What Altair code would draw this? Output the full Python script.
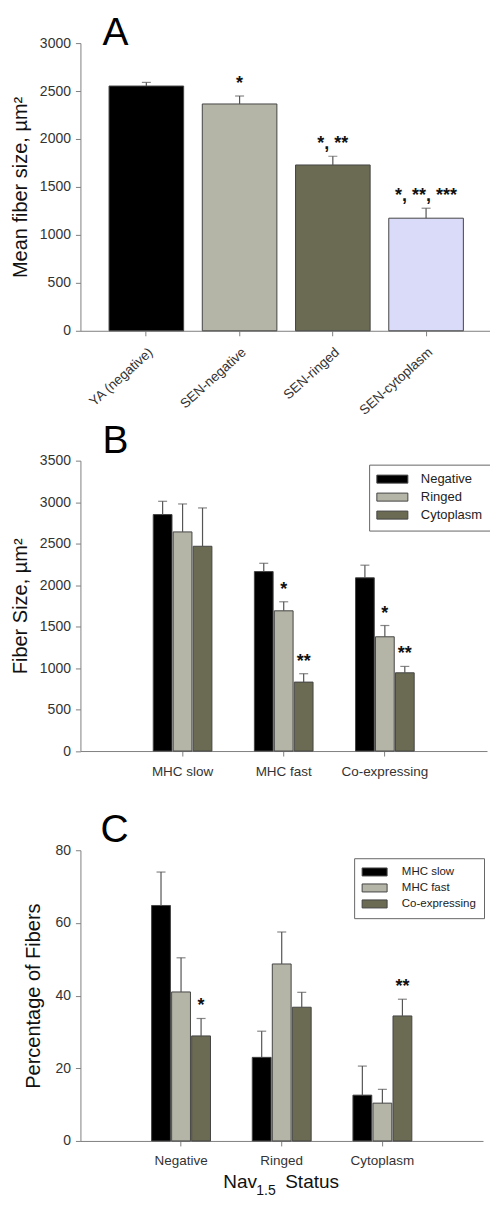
import altair as alt
import pandas as pd

FONT = "Liberation Sans"
AXIS_GRAY = "#808080"
LABEL_COLOR = "#333333"

# ---------------- Panel A data ----------------
a_categories = ["YA (negative)", "SEN-negative", "SEN-ringed", "SEN-cytoplasm"]
a_means = [2552, 2365, 1729, 1174]
a_sems = [38, 83, 91, 104]
a_stars = ["", "*", "*, **", "*, **, ***"]
a_colors = ["#000000", "#b5b5a7", "#6b6b53", "#dadaf9"]
a_ticks = [0, 500, 1000, 1500, 2000, 2500, 3000]

# ---------------- Panel B data ----------------
b_groups = ["MHC slow", "MHC fast", "Co-expressing"]
b_series = ["Negative", "Ringed", "Cytoplasm"]
b_negative_mean = [2850, 2163, 2088]
b_negative_sem = [160, 100, 152]
b_ringed_mean = [2641, 1690, 1377]
b_ringed_sem = [337, 109, 136]
b_cytoplasm_mean = [2468, 831, 943]
b_cytoplasm_sem = [462, 101, 77]
b_negative_stars = ["", "", ""]
b_ringed_stars = ["", "*", "*"]
b_cytoplasm_stars = ["", "**", "**"]
b_colors = ["#000000", "#b5b5a7", "#6b6b53"]
b_ticks = [0, 500, 1000, 1500, 2000, 2500, 3000, 3500]

# ---------------- Panel C data ----------------
c_groups = ["Negative", "Ringed", "Cytoplasm"]
c_series = ["MHC slow", "MHC fast", "Co-expressing"]
c_slow_mean = [64.8, 23.0, 12.6]
c_slow_sem = [9.2, 7.2, 8.0]
c_fast_mean = [41.0, 48.7, 10.4]
c_fast_sem = [9.4, 8.8, 3.8]
c_co_mean = [28.9, 36.8, 34.4]
c_co_sem = [4.8, 4.1, 4.6]
c_slow_stars = ["", "", ""]
c_fast_stars = ["", "", ""]
c_co_stars = ["*", "", "**"]
c_colors = ["#000000", "#b5b5a7", "#6b6b53"]
c_ticks = [0, 20, 40, 60, 80]


def long_table(groups, series, means, sems, stars):
    rows = []
    for s, m_list, e_list, st_list in zip(series, means, sems, stars):
        for g, m, e, st in zip(groups, m_list, e_list, st_list):
            rows.append({"group": g, "series": s, "mean": m, "upper": m + e, "star": st})
    return pd.DataFrame(rows)


def y_axis(title, values, extent, tpad):
    return alt.Axis(
        title=title, values=values, format="d", grid=False, tickSize=5, labelPadding=5,
        minExtent=extent, maxExtent=extent, titlePadding=tpad,
        titleFontSize=20, titleFontWeight="normal", titleColor="#111111",
        titleFont=FONT, labelFont=FONT, labelFontSize=14, labelColor=LABEL_COLOR,
        domainColor=AXIS_GRAY, tickColor=AXIS_GRAY,
    )


def letter(ch, x, y):
    return alt.Chart(pd.DataFrame({"t": [ch]})).mark_text(
        font=FONT, fontSize=39, align="left", baseline="alphabetic", color="#000000"
    ).encode(x=alt.value(x), y=alt.value(y), text="t:N")


# ---------------- Panel A ----------------
dfA = pd.DataFrame({"cat": a_categories, "mean": a_means, "sem": a_sems, "star": a_stars})
dfA["upper"] = dfA["mean"] + dfA["sem"]

xA = alt.X(
    "cat:N", sort=a_categories,
    scale=alt.Scale(paddingInner=0.2, paddingOuter=0.307),
    axis=alt.Axis(title=None, labelAngle=-42, labelFontSize=13.5, labelFont=FONT,
                  labelColor=LABEL_COLOR, tickSize=5, labelPadding=9,
                  domainColor=AXIS_GRAY, tickColor=AXIS_GRAY),
)
axA = y_axis("Mean fiber size, µm²", a_ticks, 42, 7.5)
scA = alt.Scale(domain=[0, 3000], nice=False)

baseA = alt.Chart(dfA)
barsA = baseA.mark_bar(stroke="#444444", strokeWidth=1).encode(
    x=xA, y=alt.Y("mean:Q", scale=scA, axis=axA),
    fill=alt.Fill("cat:N", scale=alt.Scale(domain=a_categories, range=a_colors), legend=None),
)
errA = baseA.mark_rule(color="#555555", strokeWidth=1.2).encode(
    x=xA, y=alt.Y("mean:Q", scale=scA, axis=axA), y2="upper:Q"
)
capA = baseA.mark_tick(color="#555555", size=9, thickness=1.2).encode(
    x=xA, y=alt.Y("upper:Q", scale=scA, axis=axA)
)
starA = baseA.mark_text(font=FONT, fontSize=18, fontWeight="bold", dy=-7,
                        baseline="alphabetic", color="#111111").encode(
    x=xA, y=alt.Y("upper:Q", scale=scA, axis=axA), text="star:N"
)
panelA = alt.layer(barsA, errA, capA, starA, letter("A", 22, 1.5)).properties(width=412, height=288)

# ---------------- Panel B ----------------
dfB = long_table(
    b_groups, b_series,
    [b_negative_mean, b_ringed_mean, b_cytoplasm_mean],
    [b_negative_sem, b_ringed_sem, b_cytoplasm_sem],
    [b_negative_stars, b_ringed_stars, b_cytoplasm_stars],
)


def grouped_panel(df, groups, series, colors, ticks, ymax, ytitle, extent, tpad,
                  legend, ppi, ppo):
    x = alt.X(
        "group:N", sort=groups,
        scale=alt.Scale(paddingInner=ppi, paddingOuter=ppo),
        axis=alt.Axis(title=None, labelAngle=0, labelFontSize=13.5, labelFont=FONT,
                      labelColor=LABEL_COLOR, tickSize=5, labelPadding=8,
                      domainColor=AXIS_GRAY, tickColor=AXIS_GRAY),
    )
    xo = alt.XOffset("series:N", sort=series, scale=alt.Scale(paddingInner=0.06, paddingOuter=0))
    ax = y_axis(ytitle, ticks, extent, tpad)
    sc = alt.Scale(domain=[0, ymax], nice=False)
    base = alt.Chart(df)
    bars = base.mark_bar(stroke="#444444", strokeWidth=1).encode(
        x=x, xOffset=xo, y=alt.Y("mean:Q", scale=sc, axis=ax),
        fill=alt.Fill("series:N", sort=series,
                      scale=alt.Scale(domain=series, range=colors), legend=legend),
    )
    err = base.mark_rule(color="#555555", strokeWidth=1.2).encode(
        x=x, xOffset=xo, y=alt.Y("mean:Q", scale=sc, axis=ax), y2="upper:Q"
    )
    cap = base.mark_tick(color="#555555", size=9, thickness=1.2).encode(
        x=x, xOffset=xo, y=alt.Y("upper:Q", scale=sc, axis=ax)
    )
    stars = base.mark_text(font=FONT, fontSize=18, fontWeight="bold", dy=-7,
                           baseline="alphabetic", color="#111111").encode(
        x=x, xOffset=xo, y=alt.Y("upper:Q", scale=sc, axis=ax), text="star:N"
    )
    return [bars, err, cap, stars]


legendB = alt.Legend(
    title=None, orient="none", legendX=289, legendY=4, direction="vertical",
    strokeColor="#666666", fillColor="white", padding=8, cornerRadius=0,
    symbolType="M-2.82,-0.73H2.82V0.73H-2.82Z", symbolSize=121,
    symbolStrokeColor="#444444", symbolStrokeWidth=1, symbolOffset=8.75,
    labelOffset=22, labelFontSize=13, labelFont=FONT, labelColor="#222222",
    rowPadding=4,
)
layersB = grouped_panel(dfB, b_groups, b_series, b_colors, b_ticks, 3500,
                        "Fiber Size, µm²", 42, 7.5, legendB, 0.42, 0.72)
panelB = alt.layer(*layersB, letter("B", 22, -8)).properties(width=407, height=290.7)

# ---------------- Panel C ----------------
dfC = long_table(
    c_groups, c_series,
    [c_slow_mean, c_fast_mean, c_co_mean],
    [c_slow_sem, c_fast_sem, c_co_sem],
    [c_slow_stars, c_fast_stars, c_co_stars],
)
legendC = alt.Legend(
    title=None, orient="none", legendX=274, legendY=8, direction="vertical",
    strokeColor="#666666", fillColor="white", padding=8, cornerRadius=0,
    symbolType="M-2.5,-0.8H2.5V0.8H-2.5Z", symbolSize=100,
    symbolStrokeColor="#444444", symbolStrokeWidth=1, symbolOffset=6.75,
    labelOffset=21.5, labelFontSize=11.5, labelFont=FONT, labelColor="#222222",
    rowPadding=3,
)
layersC = grouped_panel(dfC, c_groups, c_series, c_colors, c_ticks, 80,
                        "Percentage of Fibers", 26, 11, legendC, 0.415, 0.707)


def title_piece(txt, x, y, size):
    return alt.Chart(pd.DataFrame({"t": [txt]})).mark_text(
        font=FONT, fontSize=size, align="left", baseline="alphabetic", color="#111111"
    ).encode(x=alt.value(x), y=alt.value(y), text="t:N")


panelC = alt.layer(
    *layersC, letter("C", 20, -8),
    title_piece("Nav", 143, 338, 19),
    title_piece("1.5", 176, 345, 14),
    title_piece("Status", 205, 338, 19),
).properties(width=403, height=291)


def spacer(h):
    return alt.Chart(pd.DataFrame({"t": [""]})).mark_text().encode(
        x=alt.value(0), y=alt.value(0), text="t:N"
    ).properties(width=10, height=h)


chart = alt.vconcat(
    panelA, spacer(129.7), panelB, spacer(98.3), panelC,
    spacing=0, bounds="flush",
    padding={"left": 2.5, "top": 4.5, "right": -2, "bottom": -2},
).resolve_scale(
    x="independent", y="independent", fill="independent", xOffset="independent"
).configure_view(stroke=None)

chart.save("out.html", embed_options={"renderer": "svg", "actions": False})
